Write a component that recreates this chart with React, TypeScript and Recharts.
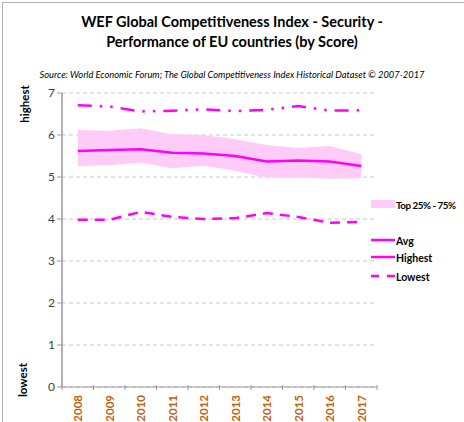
import React from "react";
import {
  ComposedChart,
  Line,
  Area,
  XAxis,
  YAxis,
  CartesianGrid,
} from "recharts";

const years = ["2008", "2009", "2010", "2011", "2012", "2013", "2014", "2015", "2016", "2017"];
const avg = [5.62, 5.64, 5.66, 5.58, 5.56, 5.5, 5.37, 5.39, 5.37, 5.26];
const highest = [6.71, 6.68, 6.56, 6.58, 6.61, 6.57, 6.6, 6.69, 6.58, 6.59];
const lowest = [3.98, 3.98, 4.17, 4.05, 4.0, 4.02, 4.14, 4.05, 3.91, 3.93];
const q25 = [5.26, 5.28, 5.34, 5.21, 5.27, 5.15, 4.98, 4.98, 4.96, 4.97];
const q75 = [6.12, 6.1, 6.16, 6.02, 6.0, 5.9, 5.76, 5.69, 5.74, 5.55];
const yTicks = [0, 1, 2, 3, 4, 5, 6, 7];

const MAGENTA = "#ff00ff";
const BAND = "#ffccf7";
const FONT = "Lato, 'Open Sans', sans-serif";

const data = years.map((y, i) => ({
  year: y,
  avg: avg[i],
  highest: highest[i],
  lowest: lowest[i],
  band: [q25[i], q75[i]],
}));

function YearTick({ x, y, payload, index }: any) {
  const half = 315 / years.length / 2;
  return (
    <g>
      <line x1={x - half} x2={x - half} y1={y - 8} y2={y - 3} stroke="#999" />
      {index === years.length - 1 && (
        <line x1={x + half} x2={x + half} y1={y - 8} y2={y - 3} stroke="#999" />
      )}
      <text
        x={x}
        y={y}
        transform={`rotate(-90, ${x}, ${y})`}
        textAnchor="end"
        dominantBaseline="central"
        fill="#c0600f"
        fontSize={11.5}
        fontWeight={700}
        fontFamily={FONT}
        dx={-2}
      >
        {payload.value}
      </text>
    </g>
  );
}

export default function App() {
  return (
    <div
      style={{
        position: "absolute",
        left: 0,
        top: 0,
        width: 464,
        height: 422,
        background: "#fff",
        fontFamily: FONT,
        overflow: "hidden",
      }}
    >
      <div
        style={{
          position: "absolute",
          left: 2,
          top: 2,
          width: 470,
          height: 430,
          borderLeft: "1px solid #b0b0b0",
          borderTop: "1px solid #b0b0b0",
        }}
      />
      <div
        style={{
          position: "absolute",
          left: 0,
          width: 464,
          top: 12,
          textAlign: "center",
          fontSize: 14.5,
          fontWeight: 700,
          lineHeight: "20px",
          color: "#000",
        }}
      >
        WEF Global Competitiveness Index - Security -
        <br />
        Performance of EU countries (by Score)
      </div>
      <div
        style={{
          position: "absolute",
          left: 0,
          width: 464,
          top: 69,
          textAlign: "center",
          fontSize: 9.3,
          fontStyle: "italic",
          color: "#000",
          whiteSpace: "nowrap",
        }}
      >
        Source: World Economic Forum; The Global Competitiveness Index Historical Dataset © 2007-2017
      </div>

      <ComposedChart
        width={464}
        height={422}
        data={data}
        margin={{ top: 93, right: 87, bottom: 0, left: 32 }}
        style={{ position: "absolute", left: 0, top: 0 }}
      >
        <CartesianGrid
          vertical={false}
          stroke="#c8c8c8"
          strokeDasharray="4 3"
        />
        <XAxis
          dataKey="year"
          scale="band"
          height={35}
          axisLine={{ stroke: "#999" }}
          tickLine={false}
          tick={<YearTick />}
          interval={0}
          tickMargin={0}
        />
        <YAxis
          width={30}
          domain={[0, 7]}
          ticks={yTicks}
          interval={0}
          axisLine={{ stroke: "#999", strokeWidth: 1.5 }}
          tickLine={{ stroke: "#999" }}
          tickSize={5}
          tick={{ fill: "#404040", fontSize: 12, fontFamily: FONT }}
        />
        <Area
          dataKey="band"
          type="linear"
          stroke="none"
          fill={BAND}
          fillOpacity={1}
          isAnimationActive={false}
          activeDot={false}
        />
        <Line
          dataKey="avg"
          type="linear"
          stroke={MAGENTA}
          strokeWidth={2.5}
          dot={false}
          isAnimationActive={false}
        />
        <Line
          dataKey="highest"
          type="linear"
          stroke={MAGENTA}
          strokeWidth={2.5}
          strokeDasharray="14 8 2.5 8 2.5 8"
          dot={false}
          isAnimationActive={false}
        />
        <Line
          dataKey="lowest"
          type="linear"
          stroke={MAGENTA}
          strokeWidth={2.5}
          strokeDasharray="10 7"
          dot={false}
          isAnimationActive={false}
        />
      </ComposedChart>

      <div
        style={{
          position: "absolute",
          left: 24,
          top: 104,
          transform: "translate(-50%, -50%) rotate(-90deg)",
          fontSize: 11.5,
          fontWeight: 700,
          whiteSpace: "nowrap",
        }}
      >
        highest
      </div>
      <div
        style={{
          position: "absolute",
          left: 22,
          top: 380,
          transform: "translate(-50%, -50%) rotate(-90deg)",
          fontSize: 11.5,
          fontWeight: 700,
          whiteSpace: "nowrap",
        }}
      >
        lowest
      </div>

      <svg
        width={464}
        height={422}
        style={{ position: "absolute", left: 0, top: 0, pointerEvents: "none" }}
      >
        <rect x={371} y={200} width={24} height={8} fill={BAND} />
        <line x1={371} x2={395} y1={240} y2={240} stroke={MAGENTA} strokeWidth={2.5} />
        <line x1={371} x2={395} y1={257} y2={257} stroke={MAGENTA} strokeWidth={2.5} />
        <line x1={371} x2={395} y1={276} y2={276} stroke={MAGENTA} strokeWidth={2.5} strokeDasharray="8 8" />
        <g fontFamily={FONT} fontSize={10.5} fontWeight={700} fill="#000" dominantBaseline="central">
          <text x={396} y={205} fontSize={9.8} letterSpacing={-0.45}>Top 25% - 75%</text>
          <text x={396} y={241}>Avg</text>
          <text x={396} y={258}>Highest</text>
          <text x={396} y={277}>Lowest</text>
        </g>
      </svg>
    </div>
  );
}
